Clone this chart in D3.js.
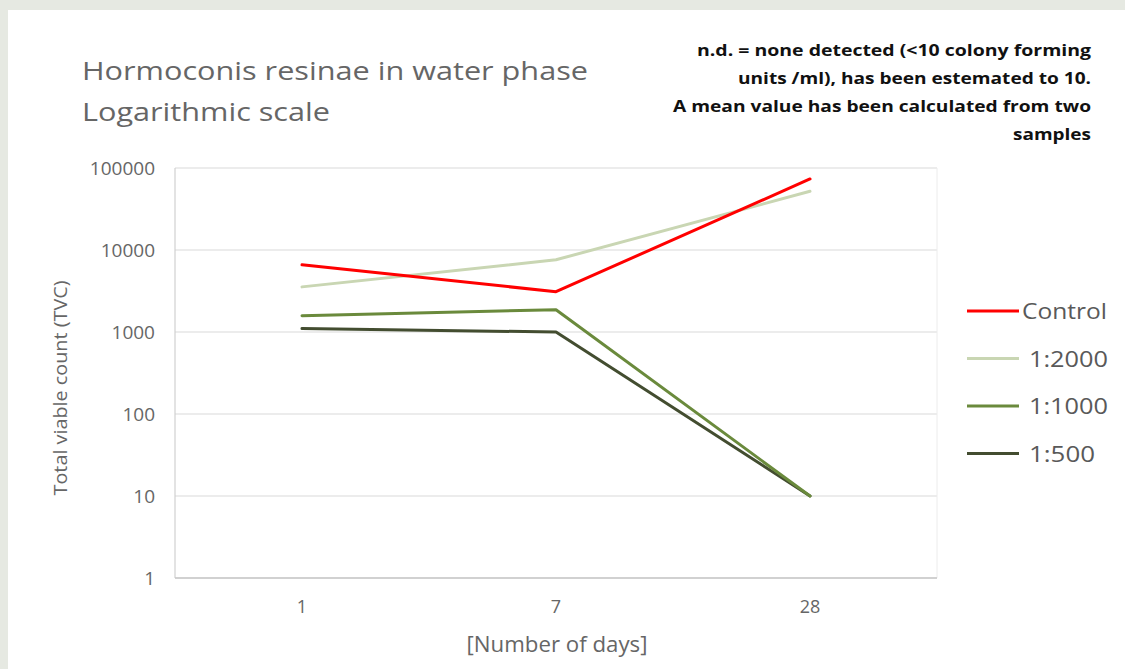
<!DOCTYPE html>
<html><head><meta charset="utf-8">
<script src="https://cdn.jsdelivr.net/npm/d3@7"></script>
<style>body{margin:0;background:#e6e9e2;}svg{display:block;}</style>
</head><body>
<svg id="c" width="1125" height="669"></svg>
<script>
const days = ["1", "7", "28"];
const seriesNames = ["Control", "1:2000", "1:1000", "1:500"];
const control = [6600, 3100, 73500];
const d2000 = [3550, 7600, 52000];
const d1000 = [1580, 1870, 10];
const d500 = [1100, 1000, 10];
const yTicks = [1, 10, 100, 1000, 10000, 100000];
const colors = ["#ff0000", "#c9d6b3", "#6a8a3c", "#434d30"];
const noteLines = ["n.d. = none detected (<10 colony forming", "units /ml), has been estemated to 10.", "A mean value has been calculated from two", "samples"];

const svg = d3.select("#c");
svg.append("rect").attr("x", 8).attr("y", 10).attr("width", 1117).attr("height", 659).attr("fill", "#ffffff");

const L = 175, R = 937, T = 168, B = 578;
const x = d3.scaleBand().domain(days).range([L, R]);
const y = d3.scaleLog().domain([1, 100000]).range([B, T]);

// gridlines
svg.append("g").selectAll("line").data(yTicks).join("line")
  .attr("x1", L).attr("x2", R).attr("y1", d => y(d)).attr("y2", d => y(d))
  .attr("stroke", "#d9d9d9").attr("stroke-width", 1.2);
svg.append("line").attr("x1", L).attr("x2", L).attr("y1", T).attr("y2", B).attr("stroke", "#d0d0d0").attr("stroke-width", 1.2);
svg.append("line").attr("x1", R).attr("x2", R).attr("y1", T).attr("y2", B).attr("stroke", "#ececec").attr("stroke-width", 1);
svg.append("line").attr("x1", L).attr("x2", R).attr("y1", B).attr("y2", B).attr("stroke", "#c8c8c8").attr("stroke-width", 1.5);

const font = "'Open Sans', sans-serif";
// y axis
const yAxis = d3.axisLeft(y).tickValues(yTicks).tickFormat(d3.format("d")).tickSize(0).tickPadding(20);
const gy = svg.append("g").attr("transform", `translate(${L},0)`).call(yAxis);
gy.select(".domain").remove();
gy.selectAll("text").attr("font-family", font).attr("font-size", 19).attr("fill", "#666");
// x axis
const xAxis = d3.axisBottom(x).tickSize(0).tickPadding(22);
const gx = svg.append("g").attr("transform", `translate(0,${B})`).call(xAxis);
gx.select(".domain").remove();
gx.selectAll("text").attr("font-family", font).attr("font-size", 18).attr("fill", "#666");

// lines
const all = [control, d2000, d1000, d500];
const line = d3.line().x((d, i) => x(days[i]) + x.bandwidth() / 2).y(d => y(d));
svg.append("g").selectAll("path").data(all.map((v, i) => ({v, i})).reverse()).join("path")
  .attr("d", d => line(d.v)).attr("fill", "none").attr("stroke", d => colors[d.i])
  .attr("stroke-width", 3).attr("stroke-linejoin", "round").attr("stroke-linecap", "round");

// titles
const title = svg.append("g").attr("font-family", font).attr("fill", "#666");
title.append("text").attr("x", 82).attr("y", 80).attr("font-size", 25).attr("textLength", 506).attr("lengthAdjust", "spacingAndGlyphs").text("Hormoconis resinae in water phase");
title.append("text").attr("x", 82).attr("y", 121).attr("font-size", 25).attr("textLength", 248).attr("lengthAdjust", "spacingAndGlyphs").text("Logarithmic scale");

svg.append("text").attr("transform", "translate(67,388) rotate(-90)").attr("text-anchor", "middle")
  .attr("font-family", font).attr("font-size", 19).attr("fill", "#666")
  .attr("textLength", 215).attr("lengthAdjust", "spacingAndGlyphs").text("Total viable count (TVC)");
svg.append("text").attr("x", 557).attr("y", 652).attr("text-anchor", "middle")
  .attr("font-family", font).attr("font-size", 21).attr("fill", "#666")
  .attr("textLength", 181).attr("lengthAdjust", "spacingAndGlyphs").text("[Number of days]");

// note
const noteW = [394, 353, 418, 78];
svg.append("g").selectAll("text").data(noteLines).join("text")
  .attr("x", 1091).attr("y", (d, i) => 56 + i * 28).attr("text-anchor", "end")
  .attr("font-family", font).attr("font-weight", "bold").attr("font-size", 16).attr("fill", "#111")
  .attr("textLength", (d, i) => noteW[i]).attr("lengthAdjust", "spacingAndGlyphs").text(d => d);

// legend
const legW = [85, 79, 79, 66];
const lg = svg.append("g").selectAll("g").data(seriesNames).join("g")
  .attr("transform", (d, i) => `translate(967,${311 + i * 47.5})`);
lg.append("line").attr("x1", 0).attr("x2", 52).attr("stroke", (d, i) => colors[i]).attr("stroke-width", 3);
lg.append("text").attr("x", (d, i) => i === 0 ? 55 : 62).attr("y", 8).attr("font-family", font).attr("font-size", 22)
  .attr("fill", "#595959").attr("textLength", (d, i) => legW[i]).attr("lengthAdjust", "spacingAndGlyphs").text(d => d);
</script>
</body></html>
